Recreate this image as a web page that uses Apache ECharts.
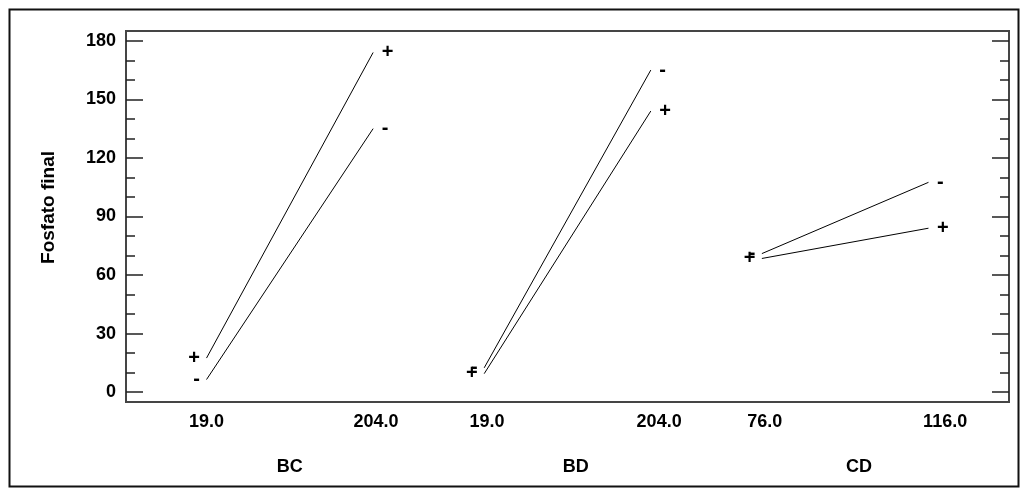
<!DOCTYPE html>
<html>
<head>
<meta charset="utf-8">
<script src="https://cdn.jsdelivr.net/npm/echarts@6/dist/echarts.min.js"></script>
<style>
  html, body { margin: 0; padding: 0; background: #fff; }
  #chart { width: 1029px; height: 496px; }
</style>
</head>
<body>
<div id="chart"></div>
<script>
// Interaction plot: Fosfato final for each two-factor pair
const factors = ['BC', 'BD', 'CD'];
const lowLevels = ['19.0', '19.0', '76.0'];
const highLevels = ['204.0', '204.0', '116.0'];

// means at the low / high level of the first factor, second factor at "-" and "+"
const minusLow = [6.5, 12.5, 71.0];
const minusHigh = [135.0, 165.0, 107.5];
const plusLow = [17.5, 9.5, 68.5];
const plusHigh = [174.0, 144.0, 84.0];

const yTicks = [0, 30, 60, 90, 120, 150, 180];
const yMinorTicks = [10, 20, 40, 50, 70, 80, 100, 110, 130, 140, 160, 170];

// x layout: each factor pair occupies one unit, centred on 1, 2, 3
const HALF = 0.3;
const LOW_TEXT_SHIFT = [0.0, 0.01, 0.01];    // small nudges of the level captions
const HIGH_TEXT_SHIFT = [0.01, 0.03, 0.06];
const GROUP_TEXT_SHIFT = [0.0, 0.03, 0.05];
const FONT = 'Liberation Sans, Arial, sans-serif';

const lowPos = factors.map((f, i) => i + 1 - HALF);
const highPos = factors.map((f, i) => i + 1 + HALF);

const captionPos = [];
const captionText = {};
factors.forEach((f, i) => {
  const a = +(lowPos[i] + LOW_TEXT_SHIFT[i]).toFixed(3);
  const b = +(highPos[i] + HIGH_TEXT_SHIFT[i]).toFixed(3);
  captionPos.push(a, b);
  captionText[a.toFixed(3)] = lowLevels[i];
  captionText[b.toFixed(3)] = highLevels[i];
});
const groupPos = factors.map((f, i) => +(i + 1 + GROUP_TEXT_SHIFT[i]).toFixed(3));
const groupText = {};
groupPos.forEach((p, i) => { groupText[p.toFixed(3)] = factors[i]; });

function pointLabel(sign, side) {
  return {
    show: true,
    formatter: sign,
    position: side,
    distance: side === 'left' ? 6 : 8,
    color: '#000',
    fontFamily: FONT,
    fontWeight: 'bold',
    fontSize: 20
  };
}

const series = [];
factors.forEach((f, i) => {
  [['-', minusLow, minusHigh], ['+', plusLow, plusHigh]].forEach(([sign, lo, hi]) => {
    series.push({
      name: f + ' ' + sign,
      type: 'line',
      xAxisIndex: 0,
      yAxisIndex: 0,
      symbol: 'circle',
      symbolSize: 1,
      itemStyle: { color: 'rgba(0,0,0,0)' },
      lineStyle: { color: '#000', width: 1 },
      silent: true,
      data: [
        { value: [lowPos[i], lo[i]], label: pointLabel(sign, 'left') },
        { value: [highPos[i], hi[i]], label: pointLabel(sign, 'right') }
      ]
    });
  });
});

const frameColor = '#454545';
const labelStyle = { color: '#000', fontFamily: FONT, fontWeight: 'bold', fontSize: 18 };

function yAxisDef(pos, ticks, len, withLine, withLabels) {
  return {
    type: 'value',
    position: pos,
    min: -5,
    max: 185,
    axisLine: { show: withLine, onZero: false, lineStyle: { color: frameColor, width: 2 } },
    axisTick: {
      show: true, inside: true, length: len, customValues: ticks,
      lineStyle: { color: '#222', width: 1.5 }
    },
    axisLabel: withLabels
      ? Object.assign({ show: true, customValues: ticks, margin: 10 }, labelStyle)
      : { show: false },
    splitLine: { show: false },
    minorTick: { show: false }
  };
}

const chart = echarts.init(document.getElementById('chart'), null, { renderer: 'canvas' });
chart.setOption({
  animation: false,
  backgroundColor: '#fff',
  grid: {
    left: 126, right: 20, top: 31, bottom: 94,
    show: true, borderColor: frameColor, borderWidth: 2, backgroundColor: 'transparent'
  },
  graphic: [{
    type: 'rect',
    shape: { x: 9.5, y: 9.5, width: 1009, height: 477 },
    style: { fill: 'none', stroke: '#111', lineWidth: 2 },
    silent: true
  }],
  xAxis: [
    {
      type: 'value', min: 0.41, max: 3.59, position: 'bottom',
      axisLine: { show: true, onZero: false, lineStyle: { color: frameColor, width: 2 } },
      axisTick: { show: false },
      splitLine: { show: false },
      axisLabel: Object.assign({
        show: true, margin: 11,
        customValues: captionPos,
        formatter: v => captionText[Number(v).toFixed(3)] || ''
      }, labelStyle)
    },
    {
      type: 'value', min: 0.41, max: 3.59, position: 'bottom', offset: 45,
      axisLine: { show: false },
      axisTick: { show: false },
      splitLine: { show: false },
      axisLabel: Object.assign({
        show: true, margin: 11,
        customValues: groupPos,
        formatter: v => groupText[Number(v).toFixed(3)] || ''
      }, labelStyle)
    }
  ],
  yAxis: [
    Object.assign(yAxisDef('left', yTicks, 17, true, true), {
      name: 'Fosfato final',
      nameLocation: 'middle',
      nameRotate: 90,
      nameGap: 68,
      nameTextStyle: { color: '#000', fontFamily: FONT, fontWeight: 'bold', fontSize: 19, padding: [0, 0, 0, 18] }
    }),
    yAxisDef('left', yMinorTicks, 9, false, false),
    yAxisDef('right', yTicks, 17, true, false),
    yAxisDef('right', yMinorTicks, 9, false, false)
  ],
  series: series
});
</script>
</body>
</html>
